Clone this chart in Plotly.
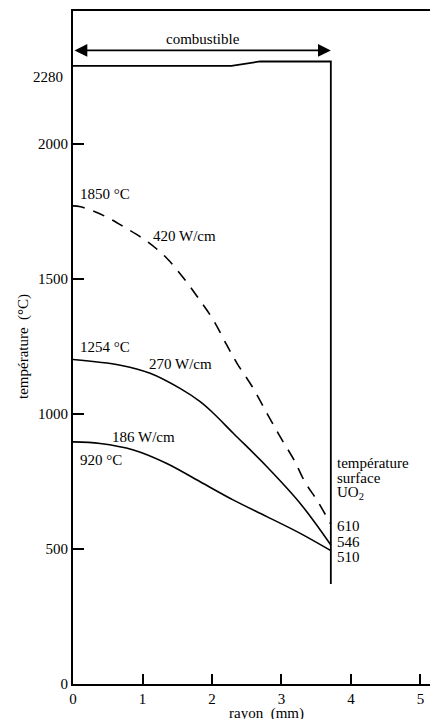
import plotly.graph_objects as go

# --- data ---
r_420 = [0.0, 0.11, 0.45, 0.76, 1.08, 1.35, 1.59, 1.81, 2.02, 2.21, 2.36, 2.58, 2.79, 2.98, 3.18, 3.34, 3.51, 3.71]
T_420 = [1771, 1768, 1734, 1689, 1637, 1577, 1504, 1427, 1348, 1257, 1188, 1101, 1003, 916, 830, 747, 681, 592]

r_270 = [0.0, 0.68, 1.11, 1.54, 1.83, 2.02, 2.31, 2.79, 3.27, 3.71]
T_270 = [1202, 1181, 1151, 1095, 1046, 1003, 928, 805, 669, 515]

r_186 = [0.0, 0.39, 0.87, 1.35, 1.83, 2.31, 2.79, 3.27, 3.71]
T_186 = [897, 891, 867, 817, 749, 681, 620, 558, 494]

r_fuel = [0.0, 2.28, 2.69, 3.71, 3.71]
T_fuel = [2290, 2290, 2306, 2306, 370]

y_ticks = [0, 500, 1000, 1500, 2000]
x_ticks = [0, 1, 2, 3, 4, 5]

FONT = "Liberation Serif"
FS = 15

fig = go.Figure()
fig.add_trace(go.Scatter(x=r_fuel, y=T_fuel, mode="lines",
                         line=dict(color="black", width=1.8)))
fig.add_trace(go.Scatter(x=r_420, y=T_420, mode="lines", line_shape="spline",
                         line=dict(color="black", width=1.6, dash="12px,9px")))
fig.add_trace(go.Scatter(x=r_270, y=T_270, mode="lines", line_shape="spline",
                         line=dict(color="black", width=1.6)))
fig.add_trace(go.Scatter(x=r_186, y=T_186, mode="lines", line_shape="spline",
                         line=dict(color="black", width=1.6)))

ann = []
def txt(x, y, s, xanchor="left", yanchor="middle", xref="x", yref="y"):
    ann.append(dict(x=x, y=y, text=s, showarrow=False, xanchor=xanchor,
                    yanchor=yanchor, xref=xref, yref=yref,
                    font=dict(family=FONT, size=FS, color="black")))

# double arrow "combustible"
ann.append(dict(x=3.71, y=2347, ax=0.0, ay=2347, xref="x", yref="y",
                axref="x", ayref="y", showarrow=True, arrowside="end+start",
                arrowhead=2, arrowsize=1.6, arrowwidth=1.6, arrowcolor="black", text=""))
txt(1.87, 2390, "combustible", xanchor="center")
txt(-8 / 357, (684 - 77) / 673, "2280", xanchor="right", xref="paper", yref="paper")
txt(0.07, 1815, "1850 °C")
txt(1.12, 1660, "420 W/cm")
txt(0.07, 1248, "1254 °C")
txt(1.07, 1185, "270 W/cm")
txt(0.53, 914, "186 W/cm")
txt(0.07, 830, "920 °C")
txt(3.77, 819, "température")
txt(3.77, 764, "surface")
txt(3.77, 708, "UO<sub>2</sub>")
txt(3.77, 586, "610")
txt(3.77, 527, "546")
txt(3.77, 471, "510")
# axis titles
ann.append(dict(x=-50 / 357, y=(684 - 347) / 673, xref="paper", yref="paper",
                text="température&nbsp;&nbsp;(°C)",
                textangle=-90, showarrow=False, xanchor="center", yanchor="middle",
                font=dict(family=FONT, size=FS, color="black")))
ann.append(dict(x=2.78, y=-29 / 673, xref="x", yref="paper", text="rayon&nbsp;&nbsp;(mm)",
                showarrow=False, xanchor="center", yanchor="middle",
                font=dict(family=FONT, size=FS, color="black")))
fig.update_layout(annotations=ann)

fig.update_layout(
    width=430, height=719,
    margin=dict(l=73, r=0, t=11, b=35),
    paper_bgcolor="white", plot_bgcolor="white",
    showlegend=False,
    font=dict(family=FONT, size=FS, color="black"),
    xaxis=dict(range=[0, 5.137], tickvals=x_ticks, ticks="inside", ticklen=10,
               tickwidth=1.5, tickcolor="black", showline=True, linecolor="black",
               linewidth=1.8, mirror=True, showgrid=False, zeroline=False,
               automargin=False,
               tickfont=dict(family=FONT, size=FS, color="black")),
    yaxis=dict(range=[0, 2493], tickvals=y_ticks, ticks="inside", ticklen=11,
               tickwidth=1.5, tickcolor="black", showline=True, linecolor="black",
               linewidth=1.8, showgrid=False, zeroline=False, automargin=False,
               tickfont=dict(family=FONT, size=FS, color="black")),
)

fig.write_html("out.html", config={"displayModeBar": False},
               post_script="document.body.style.margin='0';document.body.style.padding='0';")
